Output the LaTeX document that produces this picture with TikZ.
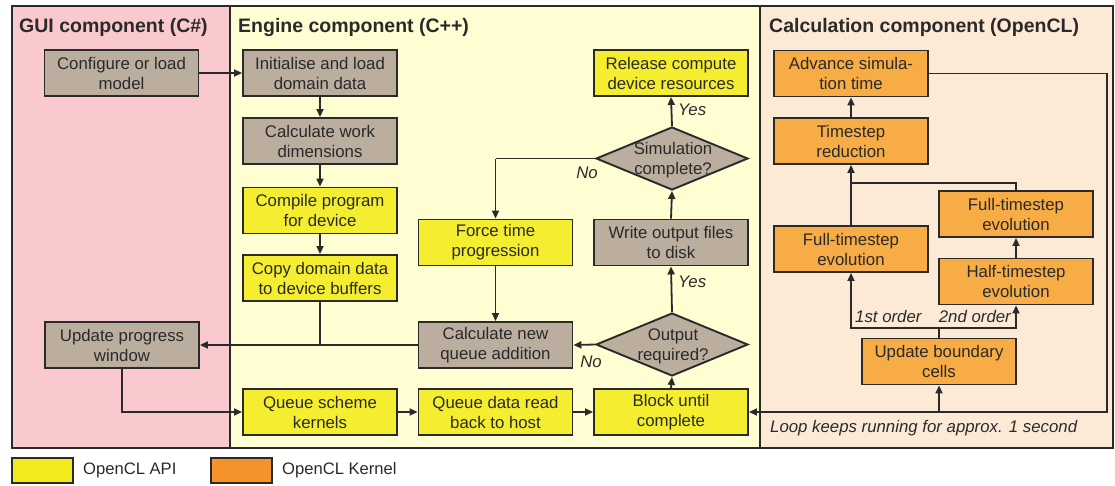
\documentclass[tikz,border=0pt]{standalone}
\usepackage{fontspec}
\setmainfont{Liberation Sans}
\usetikzlibrary{arrows.meta,shapes.geometric}

\definecolor{guibg}{HTML}{F9C9CE}
\definecolor{engbg}{HTML}{FFFDD2}
\definecolor{calbg}{HTML}{FCEAD6}
\definecolor{hostfill}{HTML}{BBAE9E}
\definecolor{apifill}{HTML}{F5EE30}
\definecolor{kernfill}{HTML}{F7AC45}
\definecolor{apikey}{HTML}{F2EA1C}
\definecolor{kernkey}{HTML}{F5922A}
\definecolor{ink}{HTML}{2A2A2A}

\tikzset{
  x=1pt, y=-1pt,
  boxtext/.style={font=\fontsize{16.8}{20}\selectfont, text=ink, align=center},
  stepbox/.style={boxtext, draw=ink, line width=1.9pt, minimum width=154pt,
    minimum height=46pt, inner sep=0pt},
  hostbox/.style={stepbox, fill=hostfill},
  apibox/.style={stepbox, fill=apifill},
  kernbox/.style={stepbox, fill=kernfill},
  decision/.style={diamond, draw=ink, line width=1.9pt, fill=hostfill,
    minimum width=152pt, minimum height=63pt, inner sep=0pt},
  flow/.style={draw=ink, line width=1.8pt},
  arr/.style={flow, -{Triangle[length=8pt,width=7pt]}},
  branch/.style={font=\fontsize{16.8}{20}\selectfont\itshape, text=ink, inner sep=0pt},
  paneltitle/.style={font=\fontsize{19.5}{22}\selectfont\bfseries, text=ink, anchor=west, inner sep=0pt},
  keytext/.style={font=\fontsize{16.6}{20}\selectfont, text=ink, anchor=west, inner sep=0pt},
}

\begin{document}
\begin{tikzpicture}
\useasboundingbox (0,0) rectangle (1115,485);
\fill[white] (0,0) rectangle (1115,485);

% component panels
\fill[guibg] (12,6) rectangle (230,448);
\fill[engbg] (230,6) rectangle (760,448);
\fill[calbg] (760,6) rectangle (1113,448);
\draw[ink, line width=1.9pt] (12,6) rectangle (1113,448);
\draw[ink, line width=1.9pt] (230,6) -- (230,448);
\draw[ink, line width=1.9pt] (760,6) -- (760,448);

\node[paneltitle] (tgui) at (19,27) {GUI component (C\#)};
\node[paneltitle] (teng) at (238,27) {Engine component (C++)};
\node[paneltitle] (tcal) at (769,27) {Calculation component (OpenCL)};

% GUI component
\node[hostbox] (cfg) at (121.5,73) {Configure or load\\model};
\node[hostbox] (upd) at (122,345) {Update progress\\window};

% engine component
\node[hostbox] (init) at (320,73) {Initialise and load\\domain data};
\node[hostbox] (work) at (320,141) {Calculate work\\dimensions};
\node[apibox] (comp) at (320,210.5) {Compile program\\for device};
\node[apibox] (copy) at (320,278) {Copy domain data\\to device buffers};
\node[apibox] (qsk) at (320,412) {Queue scheme\\kernels};
\node[apibox] (qdr) at (495.5,412) {Queue data read\\back to host};
\node[apibox] (blk) at (671,412) {Block until\\complete};
\node[hostbox] (cnq) at (495.5,345) {Calculate new\\queue addition};
\node[decision] (outq) at (672,344.5) {};
\node[boxtext, inner sep=0pt] (outqt) at (673,346) {Output\\required?};
\node[hostbox] (wof) at (671,242.5) {Write output files\\to disk};
\node[apibox] (ftp) at (495.5,242.5) {Force time\\progression};
\node[decision] (simq) at (672,158.5) {};
\node[boxtext, inner sep=0pt] (simqt) at (673,160) {Simulation\\complete?};
\node[apibox] (rel) at (671,73) {Release compute\\device resources};

% calculation component
\node[kernbox] (adv) at (851,73.5) {Advance simula-\\tion time};
\node[kernbox] (tsr) at (851,141) {Timestep\\reduction};
\node[kernbox] (fte1) at (851,249) {Full-timestep\\evolution};
\node[kernbox] (fte2) at (1016,214) {Full-timestep\\evolution};
\node[kernbox] (hte) at (1016,281.5) {Half-timestep\\evolution};
\node[kernbox] (ubc) at (939,361.5) {Update boundary\\cells};

\coordinate (loopR) at (1107,412);
\coordinate (split) at (939,328);
\coordinate (merge) at (851,183);
\coordinate (noTurn) at (495.5,158.5);

% engine flow
\draw[arr] (cfg.east) -- (init.west);
\draw[arr] (init) -- (work);
\draw[arr] (work) -- (comp);
\draw[arr] (comp) -- (copy);
\draw[flow] (copy.south) -- (copy.south |- cnq.west);
\draw[arr] (cnq.west) -- (upd.east);
\draw[arr] (upd.south) |- (qsk.west);
\draw[arr] (qsk) -- (qdr);
\draw[arr] (qdr) -- (blk);
\draw[arr] (blk.north) -- (outq.south);
\draw[arr] (outq.west) -- (cnq.east);
\draw[arr] (outq.north) -- (wof.south);
\draw[arr] (wof.north) -- (simq.south);
\draw[arr] (simq.north) -- (rel.south);
\draw[flow] (simq.west) -- (noTurn);
\draw[arr] (noTurn) -- (ftp.north);
\draw[arr] (ftp) -- (cnq);

\node[branch, anchor=west] (y1) at (678,110) {Yes};
\node[branch, anchor=west] (y2) at (678,282) {Yes};
\node[branch, anchor=east] (n1) at (598,173) {No};
\node[branch, anchor=east] (n2) at (602,362) {No};

% kernel loop
\draw[arr] (adv.east) -| (loopR) -- (blk.east);
\draw[arr] (ubc.south |- loopR) -- (ubc.south);
\draw[flow] (ubc.north) -- (split);
\draw[arr] (split) -| (fte1.south);
\draw[arr] (split) -| (hte.south);
\draw[arr] (hte) -- (fte2);
\draw[flow] (fte2.north) |- (merge);
\draw[flow] (fte1.north) -- (merge);
\draw[arr] (merge) -- (tsr.south);
\draw[arr] (tsr) -- (adv);

\node[branch, anchor=west] (o1) at (855,316) {1st order};
\node[branch, anchor=east] (o2) at (1011,316) {2nd order};
\node[branch, anchor=west] (loopnote) at (770,428) {Loop keeps running for approx. 1 second};

% legend
\node[draw=ink, line width=1.6pt, fill=apikey, minimum width=61pt, minimum height=25pt, inner sep=0pt] (kapi) at (42.5,470.5) {};
\node[keytext] (kapit) at (83,470) {OpenCL API};
\node[draw=ink, line width=1.6pt, fill=kernkey, minimum width=61pt, minimum height=25pt, inner sep=0pt] (kker) at (241.5,470.5) {};
\node[keytext] (kkert) at (282,470) {OpenCL Kernel};
\end{tikzpicture}
\end{document}
